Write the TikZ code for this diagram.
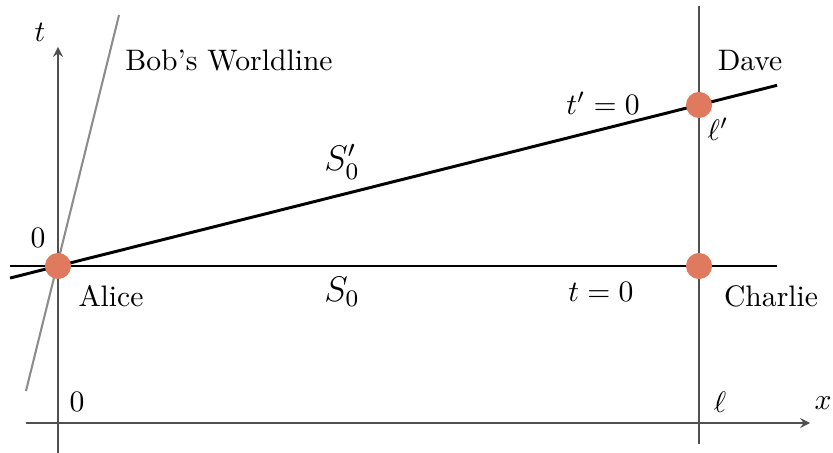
\documentclass[tikz,border=0pt]{standalone}
\usepackage{amsmath, amssymb}
\usepackage{xcolor}
\usepackage{tikz}
\usetikzlibrary{calc, positioning}

\definecolor{eventcol}{HTML}{E07A5F}
\definecolor{axiscol}{HTML}{505050}
\definecolor{bobcol}{HTML}{8C8C8C}

\tikzset{
    event/.style={circle, fill=eventcol, inner sep=0pt, minimum size=0.31cm},
    axisline/.style={axiscol, line width=0.5pt},
    simline/.style={black, line width=1pt},
}

\begin{document}
\begin{tikzpicture}[>=stealth]
    \useasboundingbox (-0.688,-2.218) rectangle (9.193,3.155);

    % Trục tọa độ
    \coordinate (xs) at (-0.380,-1.862);
    \coordinate (xe) at (8.921,-1.862);
    \coordinate (ts) at (0,-2.218);
    \coordinate (te) at (0,2.598);
    \draw[axisline, ->] (xs) -- (xe);
    \draw[axisline, ->] (ts) -- (te);
    \node at (9.075,-1.625) {$x$};
    \node at (-0.214,2.776) {$t$};
    \node at (0.225,-1.613) {$0$};
    \node at (-0.237,0.332) {$0$};

    % Đường thẳng ell
    \coordinate (ls) at (7.604,-2.112);
    \coordinate (le) at (7.604,3.084);
    \draw[axiscol, line width=0.7pt] (ls) -- (le);
    \node at (7.853,-1.613) {$\ell$};
    \node at (7.829,1.625) {$\ell'$};

    % Đường thế giới của Bob
    \coordinate (bs) at (-0.380,-1.483);
    \coordinate (be) at (0.724,2.977);
    \draw[bobcol, line width=0.7pt] (bs) -- (be);
    \node at (2.028,2.432) {Bob's Worldline};

    % Các mặt đồng thời
    \coordinate (s0a) at (-0.569,0);
    \coordinate (s0b) at (8.529,0);
    \coordinate (s1a) at (-0.569,-0.143);
    \coordinate (s1b) at (8.529,2.143);
    \draw[simline] (s0a) -- (s0b);
    \draw[simline] (s1a) -- (s1b);
    \node[font=\large] at (3.369,-0.308) {$S_0$};
    \node[font=\large] at (3.369,1.234) {$S_0'$};
    \node at (6.441,-0.308) {$t=0$};
    \node at (6.465,1.934) {$t'=0$};

    % Các sự kiện
    \node[event] (alice) at (0,0) {};
    \node[event] (charlie) at (7.604,0) {};
    \node[event] (dave) at (7.604,1.910) {};
    \node at (0.629,-0.356) {Alice};
    \node at (8.458,-0.356) {Charlie};
    \node at (8.209,2.432) {Dave};
\end{tikzpicture}
\end{document}
